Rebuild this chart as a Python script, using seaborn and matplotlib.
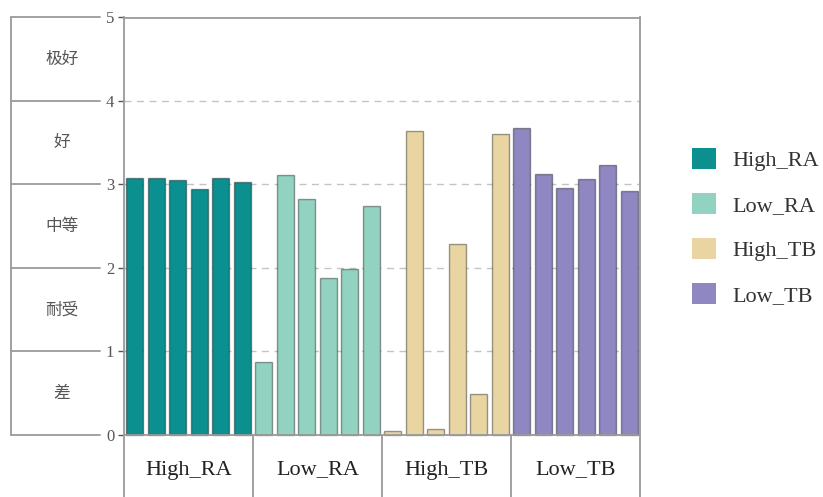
import matplotlib
matplotlib.use("Agg")
import matplotlib.pyplot as plt
from matplotlib.patches import Patch
import seaborn as sns
import pandas as pd

groups = ["High_RA", "Low_RA", "High_TB", "Low_TB"]
high_ra = [3.08, 3.08, 3.05, 2.95, 3.08, 3.03]
low_ra = [0.87, 3.11, 2.83, 1.88, 1.99, 2.74]
high_tb = [0.05, 3.64, 0.07, 2.29, 0.49, 3.61]
low_tb = [3.68, 3.13, 2.96, 3.07, 3.23, 2.92]
levels = ["差", "耐受", "中等", "好", "极好"]
colors = ["#0B8F8F", "#92D2C0", "#E9D5A2", "#8F87C1"]

series = [high_ra, low_ra, high_tb, low_tb]
rows = []
k = 0
for g, vals in zip(groups, series):
    for v in vals:
        rows.append({"bar": f"b{k:02d}", "value": v, "group": g})
        k += 1
df = pd.DataFrame(rows)
n_bars = len(df)
per_group = len(high_ra)

sns.set_style("white")
plt.rcParams["font.family"] = ["Liberation Serif", "Noto Sans CJK SC", "DejaVu Sans"]

W, H = 823, 497
fig = plt.figure(figsize=(W / 100, H / 100), dpi=100)
ybot = -0.743
ax = fig.add_axes([124 / W, 0, 516 / W, (H - 17.5) / H])
gray = "#9a9a9a"

for y in range(1, 5):
    ax.axhline(y, color="#c4c4c4", lw=1, ls=(0, (5, 4)), zorder=0)

sns.barplot(data=df, x="bar", y="value", hue="group", order=list(df["bar"]),
            hue_order=groups, palette=dict(zip(groups, colors)), dodge=False,
            saturation=1, width=0.8, edgecolor=(0, 0, 0, 0.38), linewidth=1,
            legend=False, ax=ax, zorder=2)

ax.set_xlim(-0.5, n_bars - 0.5)
ax.set_ylim(ybot, 5)
ax.set_xticks([])
ax.set_xlabel("")
ax.set_ylabel("")
ax.set_yticks(range(6))
ax.set_yticklabels([str(i) for i in range(6)])
ax.tick_params(axis="y", length=4, width=1, pad=3, labelsize=12,
               colors="#555555", left=True)
for s in ["left", "right", "top"]:
    ax.spines[s].set_color(gray)
    ax.spines[s].set_linewidth(1.3)
ax.spines["bottom"].set_visible(False)
ax.axhline(0, color=gray, lw=1.3, zorder=3)
for i in range(1, len(groups)):
    ax.vlines(i * per_group - 0.5, ybot, 0, color=gray, lw=1.3)
for i, g in enumerate(groups):
    ax.text(i * per_group + (per_group - 1) / 2, -0.42, g, ha="center",
            va="center", fontsize=16, color="#222222")

# left rating panel
lax = fig.add_axes([11 / W, 0, (100 - 11) / W, (H - 17.5) / H])
lax.set_xlim(0, 1)
lax.set_ylim(ybot, 5)
lax.axis("off")
for y in range(6):
    lax.plot([0, 1], [y, y], color=gray, lw=1.3, clip_on=False)
lax.plot([0, 0], [0, 5], color=gray, lw=1.3, clip_on=False)
for i, lab in enumerate(levels):
    lax.text((62 - 11) / 89, i + 0.5, lab, ha="center", va="center",
             fontsize=12, color="#555555",
             family=["Noto Sans CJK SC", "DejaVu Sans"])

handles = [Patch(facecolor=c, edgecolor="none") for c in colors]
fig.legend(handles, groups, loc="upper left",
           bbox_to_anchor=(672 / W, 1 - 128 / H), frameon=False,
           fontsize=16, handlelength=1.1, handleheight=1.1,
           handletextpad=0.7, labelspacing=0.98, labelcolor="#333333")

fig.savefig("out.png", dpi=100)
